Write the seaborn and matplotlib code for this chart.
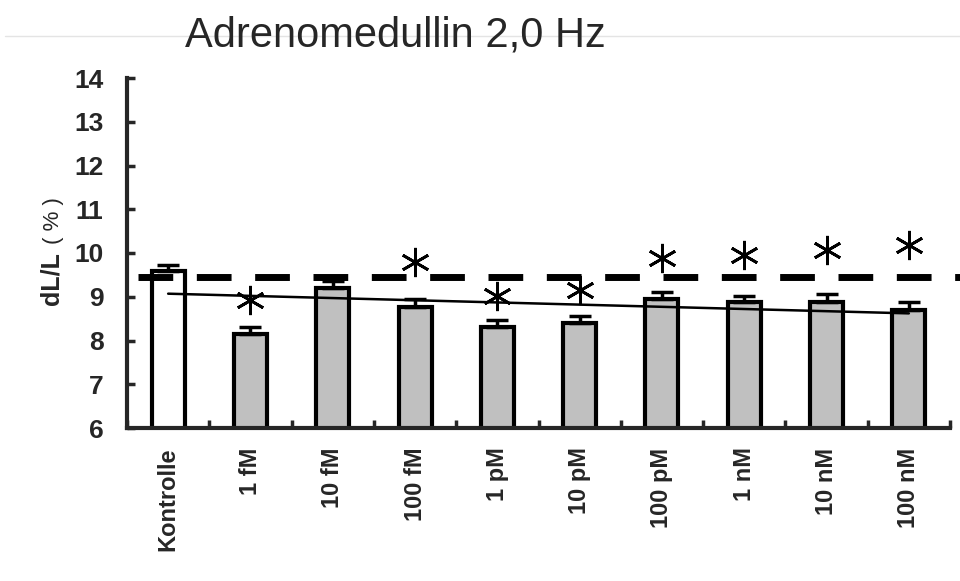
import seaborn as sns
import matplotlib.pyplot as plt
from matplotlib.lines import Line2D
import pandas as pd

# data
labels = ["Kontrolle", "1 fM", "10 fM", "100 fM", "1 pM", "10 pM", "100 pM", "1 nM", "10 nM", "100 nM"]
means = [9.58, 8.16, 9.19, 8.77, 8.32, 8.39, 8.95, 8.89, 8.89, 8.70]
errors = [0.14, 0.14, 0.17, 0.18, 0.16, 0.18, 0.16, 0.13, 0.18, 0.19]
star_labels = ["1 fM", "100 fM", "1 pM", "10 pM", "100 pM", "1 nM", "10 nM", "100 nM"]
star_y = [8.93, 9.80, 9.02, 9.15, 9.89, 9.95, 10.07, 10.18]
control_level = 9.46
trend_x = [0, 9]
trend_y = [9.07, 8.62]

df = pd.DataFrame({"group": labels, "value": means})
colors = ["white"] + ["#c0c0c0"] * (len(labels) - 1)

sns.set_style("ticks")
plt.rcParams["font.family"] = ["Liberation Sans", "DejaVu Sans"]

fig = plt.figure(figsize=(9.6, 5.81), dpi=100)
ax = fig.add_axes([127 / 960, 1 - 428 / 581, (950 - 127) / 960, 350 / 581])

sns.barplot(data=df, x="group", y="value", hue="group", palette=colors, legend=False,
            width=0.4, edgecolor="black", linewidth=3, ax=ax, zorder=2)
ax.errorbar(range(len(labels)), means, yerr=[[0] * len(labels), errors], fmt="none",
            ecolor="black", elinewidth=2.5, capsize=8, capthick=2.5, zorder=3)

# control level (dashed) and trend line
ax.plot([-0.37, 9.62], [control_level, control_level], color="black", lw=5,
        dashes=(5, 3.4), clip_on=False, zorder=4)
ax.plot(trend_x, trend_y, color="black", lw=1.8, zorder=4)

# significance stars
star_pos = [labels.index(s) for s in star_labels]
ax.plot(star_pos, star_y, linestyle="none", marker=(6, 2, 0), markersize=21,
        markeredgewidth=2.0, color="black", zorder=5, clip_on=False)

ax.set_ylim(6, 14)
ax.set_xlim(-0.5, 9.5)
ax.set_yticks(range(6, 15))
ax.set_xticks([i + 0.5 for i in range(-1, 10)], minor=True)
ax.set_xticks(range(len(labels)))
ax.set_xticklabels(labels, rotation=90, fontsize=17, fontweight="bold")
ax.tick_params(axis="x", which="major", length=0, pad=14)
ax.tick_params(axis="x", which="minor", direction="in", length=6, width=2.5)
ax.tick_params(axis="y", direction="in", length=6, width=2.5, pad=17, labelsize=19)
for t in ax.get_yticklabels():
    t.set_fontweight("bold")
ax.set_xlabel("")
ax.set_ylabel("")
sns.despine(ax=ax)
ax.spines["left"].set_linewidth(3)
ax.spines["bottom"].set_linewidth(3)

fig.text(395 / 960, 1 - 35 / 581, "Adrenomedullin 2,0 Hz", fontsize=30,
         ha="center", va="center")
fig.text(52 / 960, 1 - 305 / 581, "dL/L", rotation=90, fontsize=18,
         fontweight="bold", ha="center", va="bottom")
fig.text(53 / 960, 1 - 244 / 581, "( % )", rotation=90, fontsize=16,
         ha="center", va="bottom")
fig.add_artist(Line2D([5 / 960, 1], [1 - 36 / 581] * 2, color="#e4e4e4", lw=1))

fig.savefig("out.png", dpi=100, facecolor="white")
